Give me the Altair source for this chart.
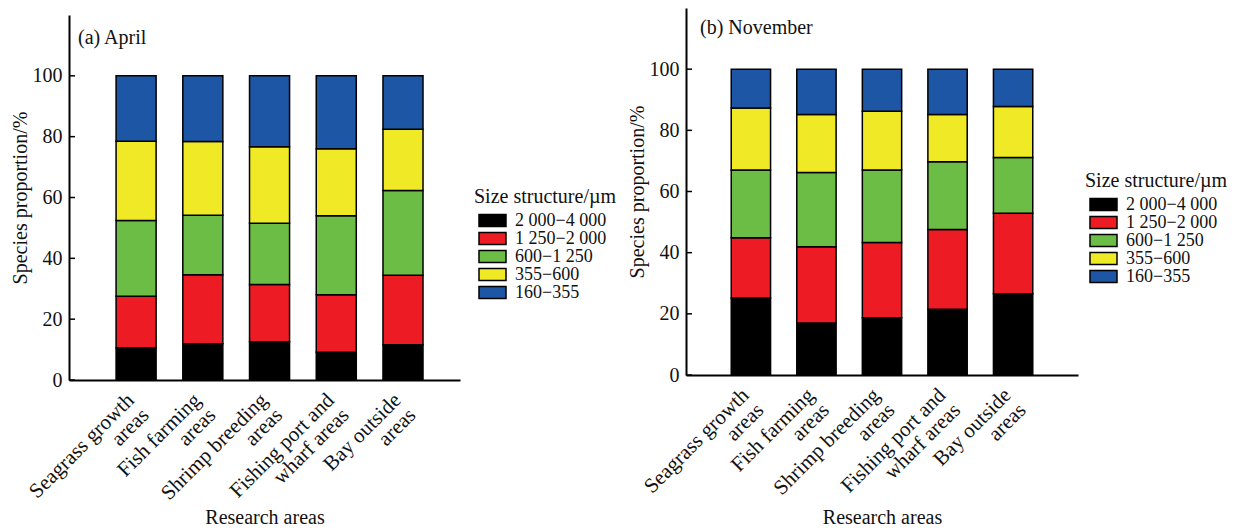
import altair as alt
import pandas as pd

areas = ["Seagrass growth\nareas", "Fish farming\nareas", "Shrimp breeding\nareas",
         "Fishing port and\nwharf areas", "Bay outside\nareas"]
sizes = ["2 000−4 000", "1 250−2 000", "600−1 250", "355−600", "160−355"]
colors = ["#000000", "#ED1C24", "#6CBD45", "#F0EA26", "#1C56A5"]

# April (a): proportion (%) of each size class per area
apr_2000_4000 = [10.6, 11.9, 12.6, 9.1, 11.6]
apr_1250_2000 = [16.9, 22.7, 18.8, 18.9, 22.8]
apr_600_1250 = [24.9, 19.6, 20.1, 26.0, 27.9]
apr_355_600 = [26.1, 24.2, 25.2, 22.0, 20.1]
apr_160_355 = [21.5, 21.6, 23.3, 24.0, 17.6]

# November (b)
nov_2000_4000 = [25.2, 17.0, 18.7, 21.5, 26.6]
nov_1250_2000 = [19.7, 24.9, 24.6, 26.1, 26.3]
nov_600_1250 = [22.1, 24.3, 23.7, 22.1, 18.2]
nov_355_600 = [20.3, 19.0, 19.2, 15.5, 16.7]
nov_160_355 = [12.7, 14.8, 13.8, 14.8, 12.2]

tick_values = [0, 20, 40, 60, 80, 100]

FONT = "Liberation Serif"
YTITLE = "Species proportion/%"


def make_df(series):
    rows = []
    for k, vals in enumerate(series):
        for a, v in zip(areas, vals):
            rows.append({"area": a, "size": sizes[k], "idx": k, "value": v})
    return pd.DataFrame(rows)


def panel(series, label, w, h, yrange, pad_outer, align, lx, ly, tx, ty, title_y):
    df = make_df(series)
    yscale = alt.Scale(domain=[0, 120], range=yrange, nice=False, zero=True)
    yaxis = alt.Axis(values=tick_values, ticks=False, grid=False, labelPadding=7,
                     titlePadding=2, domainColor="black", domainWidth=2)
    bars = alt.Chart(df).mark_bar(stroke="black", strokeWidth=1.5, opacity=1).encode(
        x=alt.X("area:N", sort=areas, title="Research areas",
                scale=alt.Scale(paddingInner=0.4, paddingOuter=pad_outer, align=align),
                axis=alt.Axis(labelAngle=315, labelAlign="right", labelBaseline="top",
                              labelExpr="split(datum.label, '\\n')", labelLineHeight=21,
                              labelFontSize=21, ticks=False, labelPadding=9, labelOffset=-13,
                              titleY=title_y, titleBaseline="middle",
                              domainColor="black", domainWidth=2)),
        y=alt.Y("value:Q", stack="zero", scale=yscale, title=YTITLE, axis=yaxis),
        color=alt.Color("size:N", sort=sizes,
                        scale=alt.Scale(domain=sizes, range=colors),
                        legend=alt.Legend(title="Size structure/µm", orient="none",
                                          legendX=lx, legendY=ly,
                                          symbolType="M-1,-1H3.5V1H-1Z", symbolSize=144,
                                          symbolStrokeColor="black", symbolStrokeWidth=1.5,
                                          symbolOpacity=1, symbolOffset=2,
                                          labelFontSize=18, titleFontSize=20,
                                          labelFont=FONT, titleFont=FONT,
                                          titleFontWeight="normal", labelOffset=21,
                                          rowPadding=0, titlePadding=4.5,
                                          padding=0, labelColor="#111", titleColor="#111")),
        order=alt.Order("idx:Q", sort="ascending"),
    )
    ticks = alt.Chart(pd.DataFrame({"v": tick_values})).mark_rule(
        color="black", strokeWidth=1.5).encode(
        y=alt.Y("v:Q", scale=yscale, title=YTITLE, axis=yaxis),
        x=alt.value(0), x2=alt.value(6))
    text = alt.Chart(pd.DataFrame({"t": [label]})).mark_text(
        align="left", baseline="middle", font=FONT, fontSize=20, color="#111").encode(
        text="t:N", x=alt.value(tx), y=alt.value(ty))
    return alt.layer(bars, ticks, text).properties(width=w, height=h)


left = panel([apr_2000_4000, apr_1250_2000, apr_600_1250, apr_355_600, apr_160_355],
             "(a) April", 391, 372, [372, 7], 0.63, 0.56, 405, 179, 9, 30, 137)
right = panel([nov_2000_4000, nov_1250_2000, nov_600_1250, nov_355_600, nov_160_355],
              "(b) November", 392, 367, [367, 0], 0.69, 0.5, 399, 163, 14, 20, 142)

chart = alt.hconcat(left, right, spacing=226, bounds="flush").resolve_legend(
    color="independent").resolve_scale(y="independent", x="independent").properties(
    padding={"left": 2, "top": 0, "right": 0, "bottom": 0}, background="white"
).configure_view(stroke=None).configure_axis(
    labelFont=FONT, titleFont=FONT, labelFontSize=20, titleFontSize=20,
    titleFontWeight="normal", labelColor="#111", titleColor="#111", grid=False
)

chart.save("out.html", embed_options={"renderer": "svg", "actions": False})
